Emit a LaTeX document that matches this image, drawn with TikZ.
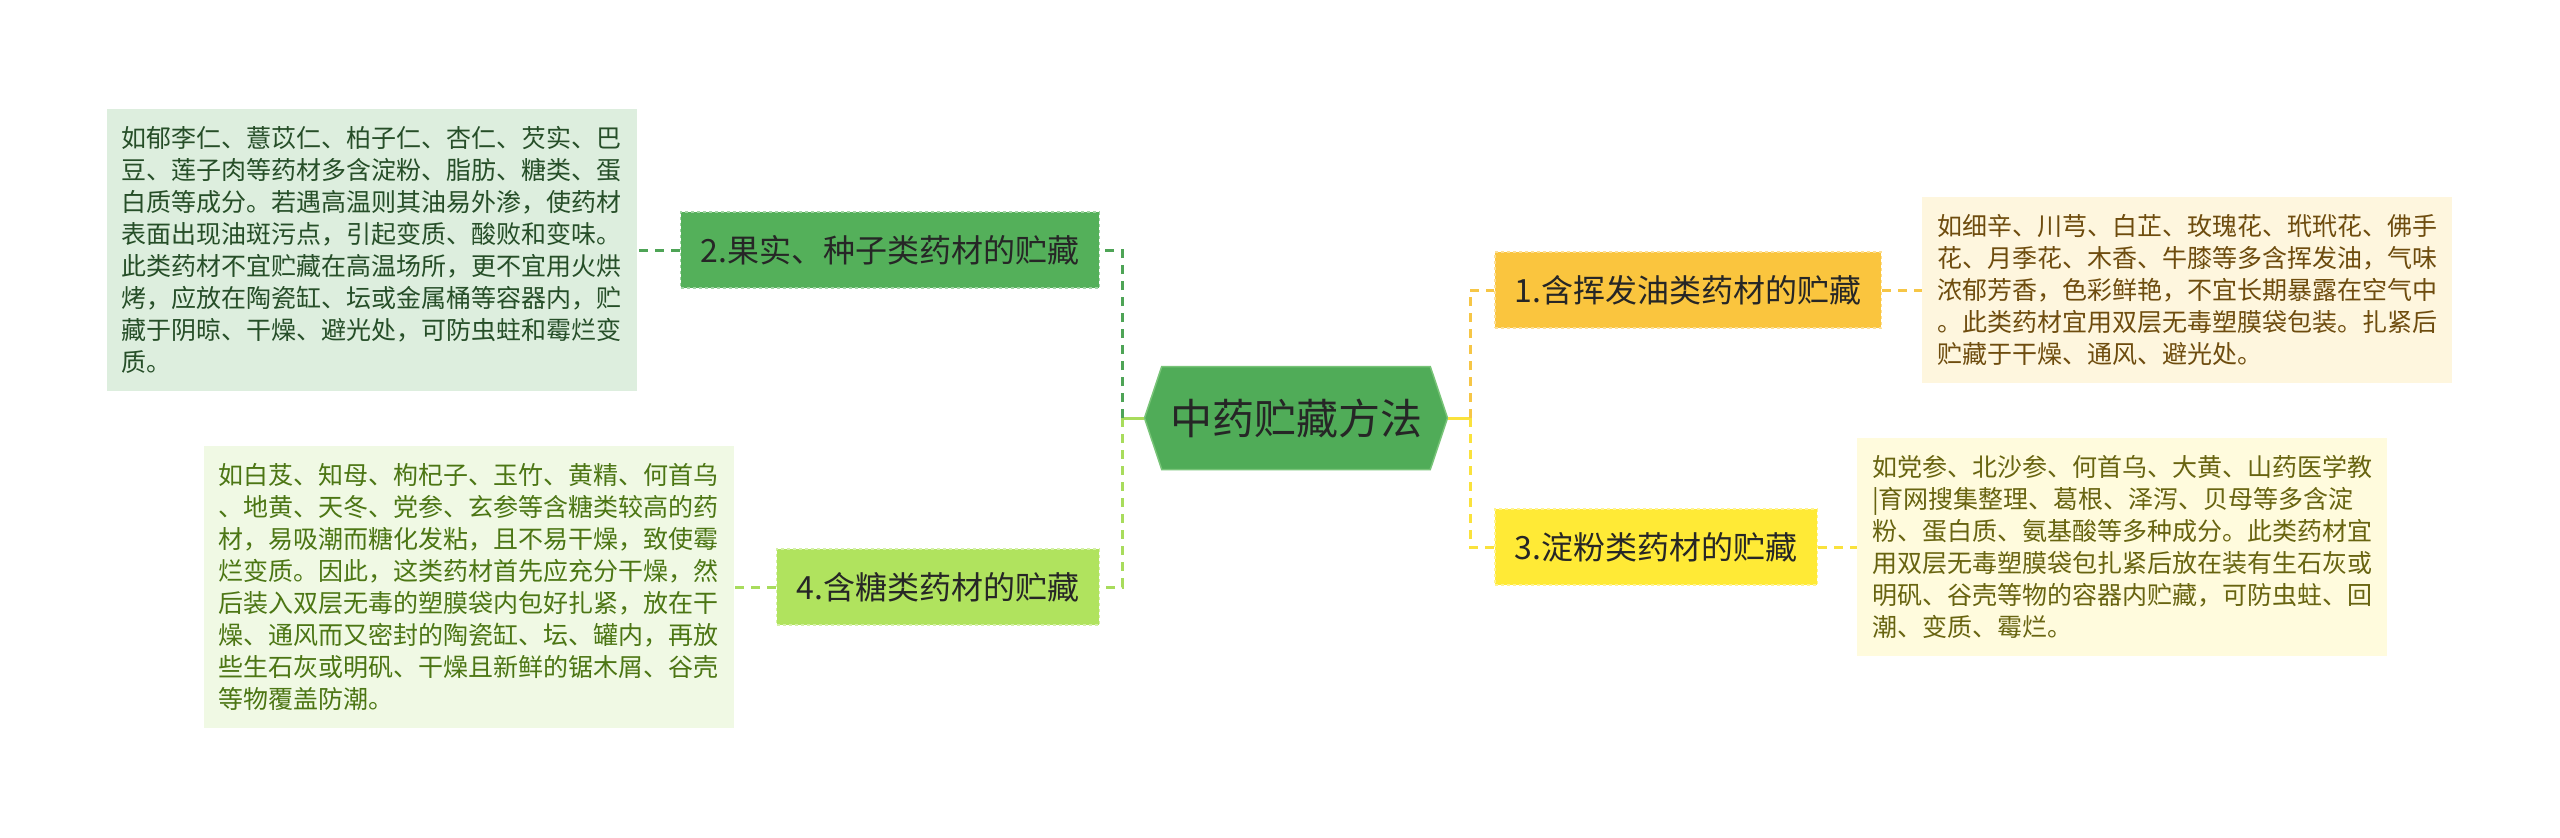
\documentclass[tikz,border=0pt]{standalone}
\usepackage{fontspec}
\setmainfont{Noto Sans CJK SC}
\usepackage{tikz}
\usetikzlibrary{shapes.symbols}
\definecolor{rootgreen}{RGB}{80,172,88}
\definecolor{rootline}{RGB}{120,196,120}
\definecolor{fruitgreen}{RGB}{84,176,90}
\definecolor{sugargreen}{RGB}{176,227,94}
\definecolor{oilamber}{RGB}{250,197,62}
\definecolor{starchyellow}{RGB}{255,234,54}
\definecolor{fruitbg}{RGB}{221,238,222}
\definecolor{sugarbg}{RGB}{240,249,228}
\definecolor{oilbg}{RGB}{254,246,222}
\definecolor{starchbg}{RGB}{255,251,221}
\definecolor{fruittext}{RGB}{38,78,40}
\definecolor{sugartext}{RGB}{76,118,20}
\definecolor{oiltext}{RGB}{110,76,14}
\definecolor{starchtext}{RGB}{104,100,16}
\definecolor{darktext}{RGB}{38,38,38}
\definecolor{fruitlink}{RGB}{78,164,86}
\definecolor{sugarlink}{RGB}{168,220,92}
\definecolor{oillink}{RGB}{246,198,70}
\definecolor{starchlink}{RGB}{250,226,60}

\begin{document}
\begin{tikzpicture}[
  x=1pt, y=-1pt,
  root/.style={signal, signal to=west and east, signal pointer angle=143, fill=rootgreen, draw=rootline, line width=1.5pt, minimum width=303pt, minimum height=103pt, inner sep=0pt, text=darktext, font=\fontsize{42}{50}\selectfont},
  topic/.style={dashed, line width=1.5pt, minimum height=76pt, inner xsep=20pt, inner ysep=0pt, text=darktext, font=\fontsize{32}{38}\selectfont},
  leaf/.style={align=left, inner xsep=15pt, inner ysep=17pt, font=\fontsize{25}{32}\selectfont},
  link/.style={line width=3pt, dash pattern=on 9pt off 7pt},
  trunk/.style={line width=3pt}
]
\useasboundingbox[fill=white] (0,0) rectangle (2560,838);

\node[root] (root) at (1296,418) {中药贮藏方法};

\node[topic, anchor=west, fill=oilamber, draw=oilamber!55!white] (oil) at (1494,290) {1.含挥发油类药材的贮藏};
\node[topic, anchor=east, fill=fruitgreen, draw=fruitgreen!55!white] (fruit) at (1100,250) {2.果实、种子类药材的贮藏};
\node[topic, anchor=west, fill=starchyellow, draw=starchyellow!55!white] (starch) at (1494,547) {3.淀粉类药材的贮藏};
\node[topic, anchor=east, fill=sugargreen, draw=sugargreen!55!white] (sugar) at (1100,587) {4.含糖类药材的贮藏};

\node[leaf, anchor=west, fill=oilbg, text=oiltext] (oilnote) at (1922,290) {如细辛、川芎、白芷、玫瑰花、玳玳花、佛手\\花、月季花、木香、牛膝等多含挥发油，气味\\浓郁芳香，色彩鲜艳，不宜长期暴露在空气中\\。此类药材宜用双层无毒塑膜袋包装。扎紧后\\贮藏于干燥、通风、避光处。};
\node[leaf, anchor=east, fill=fruitbg, text=fruittext] (fruitnote) at (637,250) {如郁李仁、薏苡仁、柏子仁、杏仁、芡实、巴\\豆、莲子肉等药材多含淀粉、脂肪、糖类、蛋\\白质等成分。若遇高温则其油易外渗，使药材\\表面出现油斑污点，引起变质、酸败和变味。\\此类药材不宜贮藏在高温场所，更不宜用火烘\\烤，应放在陶瓷缸、坛或金属桶等容器内，贮\\藏于阴晾、干燥、避光处，可防虫蛀和霉烂变\\质。};
\node[leaf, anchor=west, fill=starchbg, text=starchtext] (starchnote) at (1857,547) {如党参、北沙参、何首乌、大黄、山药医学教\\|育网搜集整理、葛根、泽泻、贝母等多含淀\\粉、蛋白质、氨基酸等多种成分。此类药材宜\\用双层无毒塑膜袋包扎紧后放在装有生石灰或\\明矾、谷壳等物的容器内贮藏，可防虫蛀、回\\潮、变质、霉烂。};
\node[leaf, anchor=east, fill=sugarbg, text=sugartext] (sugarnote) at (734,587) {如白芨、知母、枸杞子、玉竹、黄精、何首乌\\、地黄、天冬、党参、玄参等含糖类较高的药\\材，易吸潮而糖化发粘，且不易干燥，致使霉\\烂变质。因此，这类药材首先应充分干燥，然\\后装入双层无毒的塑膜袋内包好扎紧，放在干\\燥、通风而又密封的陶瓷缸、坛、罐内，再放\\些生石灰或明矾、干燥且新鲜的锯木屑、谷壳\\等物覆盖防潮。};

\coordinate (jl) at (1122,418);
\coordinate (jr) at (1470,418);

\draw[trunk, sugarlink] (root.west) -- (jl);
\draw[trunk, starchlink] (root.east) -- (jr);
\draw[link, fruitlink] (jl) |- (fruit.east);
\draw[link, sugarlink] (jl) |- (sugar.east);
\draw[link, oillink] (jr) |- (oil.west);
\draw[link, starchlink] (jr) |- (starch.west);

\draw[link, fruitlink] (fruit.west) -- (fruitnote.east);
\draw[link, sugarlink] (sugar.west) -- (sugarnote.east);
\draw[link, oillink] (oil.east) -- (oilnote.west);
\draw[link, starchlink] (starch.east) -- (starchnote.west);
\end{tikzpicture}
\end{document}
